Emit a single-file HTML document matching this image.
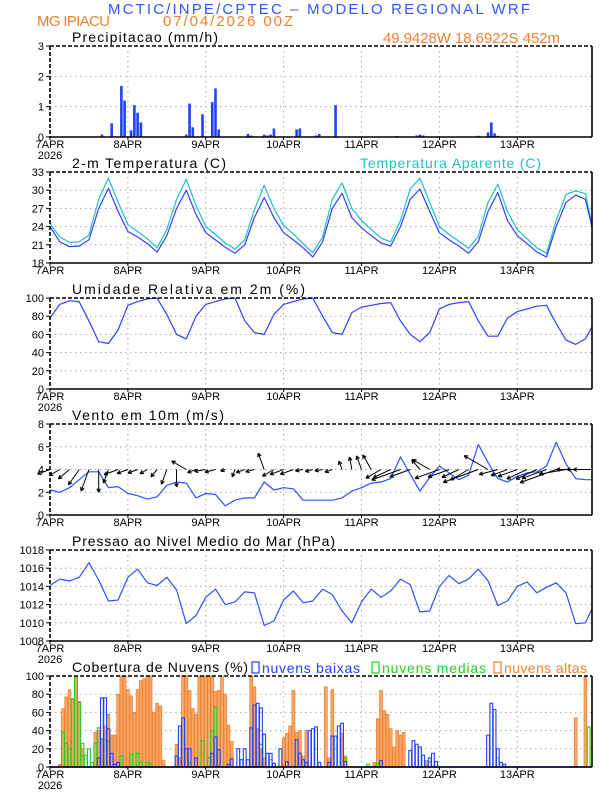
<!DOCTYPE html>
<html><head><meta charset="utf-8">
<style>
html,body{margin:0;padding:0;background:#fff;}
svg{display:block;font-family:"Liberation Sans",sans-serif;}
</style></head>
<body>
<svg id="chart" width="612" height="792" viewBox="0 0 612 792" xmlns="http://www.w3.org/2000/svg">
<text x="108" y="14" font-size="15" fill="#3355ff" textLength="422" lengthAdjust="spacing">MCTIC/INPE/CPTEC – MODELO REGIONAL WRF</text>
<text x="37" y="26" font-size="15" fill="#f08030" textLength="73" lengthAdjust="spacing">MG IPIACU</text>
<text x="163" y="26" font-size="15" fill="#f08030" textLength="130" lengthAdjust="spacing">07/04/2026 00Z</text>
<text x="383" y="43" font-size="15" fill="#f08030" textLength="177" lengthAdjust="spacing">49.9428W 18.6922S 452m</text>
<g id="g"></g>
</svg>
<script>
// ---------- data ----------
const days = ["7APR","8APR","9APR","10APR","11APR","12APR","13APR"];
const hours3 = [0,3,6,9,12,15,18,21,24,27,30,33,36,39,42,45,48,51,54,57,60,63,66,69,72,75,78,81,84,87,90,93,96,99,102,105,108,111,114,117,120,123,126,129,132,135,138,141,144,147,150,153,156,159,162,165,167];
const precipHours = [16,19,22,23,25,26,27,28,42,43,44,47,50,51,52,61,62,63,66,67,68,69,76,77,82,83,88,107,113,114,115,132,135,136,137,138,157,158,159,160];
const precipVals = [0.08,0.45,1.68,1.2,0.22,1.05,0.8,0.48,0.08,1.1,0.32,0.75,1.15,1.6,0.25,0.1,0.05,0.02,0.08,0.05,0.08,0.28,0.25,0.28,0.05,0.1,1.05,0.03,0.05,0.08,0.05,0.04,0.15,0.48,0.12,0.04,0.02,0.02,0.02,0.02];
const tempVals = [24.0,21.5,20.7,20.8,21.8,27.0,30.3,26.5, 23.2,22.3,21.2,19.8,22.5,27.0,30.0,26.0, 23.0,21.8,20.6,19.6,21.0,25.5,28.8,25.5, 23.0,21.8,20.5,19.0,21.5,27.0,29.5,25.5, 23.8,22.5,21.3,20.8,24.0,28.5,30.2,26.5, 23.0,21.8,20.8,19.6,21.5,26.5,29.6,25.0, 22.5,21.2,19.8,19.0,24.0,28.0,29.2,28.5,24.0];
const apparentVals = [24.5,22.3,21.4,21.5,22.6,28.5,32.0,28.0, 24.3,23.2,22.0,20.5,23.5,28.5,31.8,27.5, 24.0,22.7,21.3,20.3,21.8,26.8,30.8,27.0, 24.2,22.8,21.2,19.7,22.3,28.5,31.2,27.0, 25.0,23.5,22.1,21.5,25.0,30.2,32.0,28.0, 24.0,22.7,21.6,20.4,22.4,28.0,31.0,26.5, 23.5,22.0,20.5,19.6,25.0,29.3,29.9,29.4,24.5];
const rhVals = [78,93,97,96,75,52,50,65, 92,96,99,100,82,60,55,80, 93,96,99,100,75,62,60,82, 93,96,99,100,80,62,60,84, 90,92,94,95,75,60,52,62, 88,93,95,96,75,58,58,78, 85,88,91,92,72,54,49,55,68];
const windVals = [2.2,2.0,2.4,3.1,3.8,3.8,2.4,2.5, 1.9,1.7,1.4,1.6,2.6,2.9,2.8,1.5, 1.9,1.8,0.8,1.3,1.5,1.5,2.9,2.2, 2.4,2.3,1.3,1.3,1.3,1.3,1.5,2.1, 2.4,2.8,2.9,3.2,5.1,3.6,2.1,3.3, 4.3,3.7,3.1,3.5,6.2,4.6,3.2,2.9, 3.4,3.7,3.8,4.3,6.4,4.5,3.2,3.1,3.1];
const windDir = [200,210,220,235,250,270,250,200, 200,200,210,230,250,270,150,200, 190,195,200,250,200,195,110,210, 200,200,190,195,190,200,110,100, 110,120,210,205,200,200,130,150, 200,200,205,210,200,150,195,200, 200,205,205,200,200,190,180,180,180];
const pressVals = [1014.1,1014.8,1014.6,1015.0,1016.6,1014.7,1012.4,1012.5, 1015.0,1015.9,1014.4,1014.1,1015.0,1013.6,1009.9,1010.8, 1012.8,1013.7,1012.0,1012.3,1013.4,1013.3,1009.7,1010.2, 1012.5,1013.5,1012.2,1012.4,1013.7,1013.1,1011.3,1010.0, 1012.3,1013.7,1012.8,1013.5,1014.8,1014.2,1011.2,1011.3, 1014.0,1015.2,1014.3,1014.8,1015.9,1014.6,1011.9,1012.4, 1014.0,1014.5,1013.3,1013.9,1014.4,1013.3,1009.9,1010.0,1011.5];
const highHours = [3,4,5,6,7,8,9,10,14,15,16,17,18,19,20,21,22,23,24,25,26,27,28,29,30,31,32,33,34,35,39,40,41,42,43,44,45,46,47,48,49,50,51,52,53,54,55,56,62,63,64,65,66,72,73,74,75,76,77,78,79,85,86,87,90,91,100,101,102,103,104,105,106,107,108,109,116,162,165,166];
const highVals = [3,64,77,85,75,100,72,20,38,40,30,45,58,35,35,80,100,100,85,78,60,85,95,97,100,100,60,70,67,7,25,10,100,100,84,64,58,100,100,100,100,100,83,84,100,80,46,28,100,88,42,20,10,32,37,45,84,38,40,12,40,88,10,85,37,12,5,53,84,62,58,42,22,40,35,38,7,54,100];
const lowHours = [15,16,17,18,19,20,21,39,40,41,42,43,45,50,51,52,55,56,58,59,60,61,62,63,64,65,66,67,68,69,71,73,76,77,78,79,80,81,82,83,86,87,88,89,90,91,102,111,112,113,114,115,117,118,119,135,136,137,138,139,140];
const lowVals = [10,76,76,42,15,3,5,12,45,54,20,20,10,15,33,19,3,9,20,8,20,8,43,68,70,65,36,15,15,4,20,6,30,15,8,5,40,42,44,5,5,34,34,45,48,6,7,18,29,25,22,13,10,15,6,35,70,63,20,5,3];
const midHours = [4,5,6,7,8,9,10,11,12,13,14,15,16,17,18,22,25,27,28,30,31,43,47,49,50,51,65,68,69,91,98,101,117,138,166];
const midVals = [38,26,20,75,100,71,26,13,20,5,26,43,31,30,28,12,14,15,5,5,4,5,29,10,40,66,25,8,4,10,3,4,6,10,44];

// ---------- helpers ----------
const NS = "http://www.w3.org/2000/svg";
const G = document.getElementById("g");
const X0 = 50, X1 = 592, DX = 3.245, PH = 91;
function xh(h){ return X0 + h*DX; }
function mk(tag, attrs, parent){
  const e = document.createElementNS(NS, tag);
  for (const k in attrs) e.setAttribute(k, attrs[k]);
  (parent||G).appendChild(e);
  return e;
}
function yScale(top, min, max){ return v => top + PH - (v-min)/(max-min)*PH; }

function panel(name, top, min, max, step, title, titleLen, show2026){
  const pg = mk("g", {});
  
  
  const y = yScale(top, min, max);
  for (let v = min+step; v < max-1e-9; v += step){
    const gl = mk("line", {x1:X0, x2:X1, y1:y(v), y2:y(v), stroke:"#aaa", "stroke-dasharray":"1.5,3.5", "stroke-width":1}, pg);
    
    
  }
  for (let d = 1; d < days.length; d++){
    const vl = mk("line", {x1:xh(d*24), x2:xh(d*24), y1:top, y2:top+PH, stroke:"#aaa", "stroke-dasharray":"1.5,3.5", "stroke-width":1}, pg);
    
    
  }
  for (let v = min; v <= max+1e-9; v += step){
    const t = mk("text", {x:X0-6, y:y(v)+4, "font-size":11, "text-anchor":"end", fill:"#000"}, pg);
    t.textContent = String(Math.round(v));
    
    
    mk("line", {x1:X0-4, x2:X0, y1:y(v), y2:y(v), stroke:"#000"}, pg);
  }
  days.forEach((d,i) => {
    const t = mk("text", {x:xh(i*24), y:top+PH+11, "font-size":11, "text-anchor":"middle", fill:"#000"}, pg);
    t.textContent = d;
    
    
    mk("line", {x1:xh(i*24), x2:xh(i*24), y1:top+PH, y2:top+PH+3, stroke:"#000"}, pg);
  });
  if (show2026){
    const t = mk("text", {x:X0, y:top+PH+22, "font-size":11, "text-anchor":"middle", fill:"#000"}, pg);
    t.textContent = "2026";
    
    
  }
  const tt = mk("text", {x:72, y:top-4, "font-size":14, fill:"#000", textLength:titleLen, lengthAdjust:"spacing"}, pg);
  tt.textContent = title;
  
  
  return {y, pg, top};
}
function frame(p){
  const f = mk("g", {}, p.pg);
  
  
  mk("line", {x1:X0, x2:X1, y1:p.top, y2:p.top, stroke:"#000", "stroke-width":1.6, "stroke-dasharray":"4,2"}, f);
  mk("line", {x1:X0, x2:X0, y1:p.top, y2:p.top+PH, stroke:"#000", "stroke-width":1.6, "stroke-dasharray":"4,2"}, f);
  mk("line", {x1:X0, x2:X1, y1:p.top+PH, y2:p.top+PH, stroke:"#000", "stroke-width":1.6}, f);
  mk("line", {x1:X1, x2:X1, y1:p.top, y2:p.top+PH, stroke:"#000", "stroke-width":1.6}, f);
}
function line(p, vals, color, name){
  const d = hours3.map((h,i) => (i?"L":"M") + xh(h).toFixed(1) + "," + p.y(vals[i]).toFixed(1)).join(" ");
  const e = mk("path", {d, fill:"none", stroke:color, "stroke-width":1.2, "stroke-linejoin":"round"}, p.pg);
  
  
}

// ---------- panel 1: precipitation ----------
const p1 = panel("precipitation", 46, 0, 3, 1, "Precipitacao (mm/h)", 146, true);
precipHours.forEach((h,i) => {
  const r = mk("rect", {x:xh(h)-1.3, width:2.6, y:p1.y(precipVals[i]), height:p1.y(0)-p1.y(precipVals[i]), fill:"#2040ff"}, p1.pg);
  
  
});
frame(p1);

// ---------- panel 2: temperature ----------
const p2 = panel("temperature", 172, 18, 33, 3, "2-m Temperatura (C)", 154, false);
line(p2, apparentVals, "#20c0c8", "apparent-temperature-line");
line(p2, tempVals, "#3040ff", "temperature-line");
const lg = mk("text", {x:360, y:168, "font-size":14, fill:"#20c0c8", textLength:181, lengthAdjust:"spacing"}, p2.pg);
lg.textContent = "Temperatura Aparente (C)";


frame(p2);

// ---------- panel 3: RH ----------
const p3 = panel("humidity", 298, 0, 100, 20, "Umidade Relativa em 2m (%)", 233, true);
line(p3, rhVals, "#3040ff", "humidity-line");
frame(p3);

// ---------- panel 4: wind ----------
const p4 = panel("wind", 424, 0, 8, 2, "Vento em 10m (m/s)", 152, false);
line(p4, windVals, "#3050ff", "wind-speed-line");
hours3.forEach((h,i) => {
  const x0 = xh(h), y0 = p4.y(4);
  const L = windVals[i]*6;
  const a = windDir[i]*Math.PI/180;
  const x1 = x0 + L*Math.cos(a), y1 = y0 - L*Math.sin(a);
  const ag = mk("g", {}, p4.pg);
  
  
  mk("line", {x1:x0, y1:y0, x2:x1, y2:y1, stroke:"#000", "stroke-width":1}, ag);
  const hl = 4;
  [a+Math.PI-0.45, a+Math.PI+0.45].forEach(b => {
    mk("line", {x1:x1, y1:y1, x2:x1+hl*Math.cos(b), y2:y1-hl*Math.sin(b), stroke:"#000", "stroke-width":1.2}, ag);
  });
});
frame(p4);

// ---------- panel 5: pressure ----------
const p5 = panel("pressure", 550, 1008, 1018, 2, "Pressao ao Nivel Medio do Mar (hPa)", 263, true);
line(p5, pressVals, "#3050ff", "pressure-line");
frame(p5);

// ---------- panel 6: clouds ----------
const p6 = panel("cloud-cover", 676, 0, 100, 20, "Cobertura de Nuvens (%)", 176, true);
highHours.forEach((h,i) => {
  const r = mk("rect", {x:xh(h)-1.4, width:2.8, y:p6.y(highVals[i]), height:p6.y(0)-p6.y(highVals[i]), fill:"#f8a868", stroke:"#f08030", "stroke-width":0.8}, p6.pg);
  
  
});
midHours.forEach((h,i) => {
  const r = mk("rect", {x:xh(h)-1.4, width:2.8, y:p6.y(midVals[i]), height:p6.y(0)-p6.y(midVals[i]), fill:"none", stroke:"#20d020", "stroke-width":1.1}, p6.pg);
  
  
});
lowHours.forEach((h,i) => {
  const r = mk("rect", {x:xh(h)-1.4, width:2.8, y:p6.y(lowVals[i]), height:p6.y(0)-p6.y(lowVals[i]), fill:"none", stroke:"#2040ff", "stroke-width":1.1}, p6.pg);
  
  
});
mk("line", {x1:X0, x2:X1, y1:p6.y(0), y2:p6.y(0), stroke:"#2040ff", "stroke-width":1.5}, p6.pg);
[["nuvens baixas","#2040ff",252,98,"low"],["nuvens medias","#20d020",372,104,"mid"],["nuvens altas","#f08030",494,83,"high"]].forEach(l => {
  const lgG = mk("g", {}, p6.pg);
  
  
  mk("rect", {x:l[2], y:662, width:7, height:11, fill:"none", stroke:l[1], "stroke-width":1.2}, lgG);
  const t = mk("text", {x:l[2]+10, y:673, "font-size":14, fill:l[1], textLength:l[3], lengthAdjust:"spacing"}, lgG);
  t.textContent = l[0];
});
frame(p6);
</script>
</body></html>
